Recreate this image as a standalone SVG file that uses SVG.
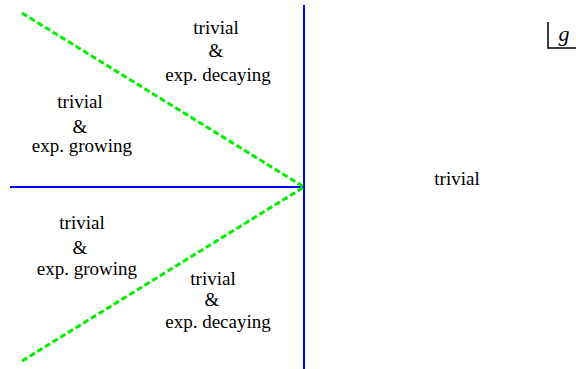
<svg xmlns="http://www.w3.org/2000/svg" width="576" height="369" viewBox="0 0 576 369">
<style>
.t{font-family:"Liberation Serif","Times New Roman",serif;font-size:19px;fill:#000;text-anchor:middle}
.blue{stroke:#0000ff;stroke-width:2;fill:none}
.green{stroke:#00ee00;stroke-width:3;stroke-dasharray:6,3;fill:none}
</style>
<rect width="576" height="369" fill="#fff"/>
<g id="connectors">
<line class="blue" x1="304" y1="5" x2="304" y2="369"/>
<line class="blue" x1="10" y1="187" x2="304" y2="187"/>
<line class="green" x1="22" y1="13" x2="304" y2="187"/>
<line class="green" x1="22" y1="361" x2="304" y2="187"/>
</g>
<g id="label-top">
<text class="t" x="216" y="34">trivial</text>
<text class="t" x="216" y="57">&amp;</text>
<text class="t" x="218" y="81">exp. decaying</text>
</g>
<g id="label-upper-left">
<text class="t" x="80" y="108">trivial</text>
<text class="t" x="80" y="133">&amp;</text>
<text class="t" x="82" y="152">exp. growing</text>
</g>
<g id="label-lower-left">
<text class="t" x="82" y="229">trivial</text>
<text class="t" x="80" y="254">&amp;</text>
<text class="t" x="87" y="275">exp. growing</text>
</g>
<g id="label-bottom">
<text class="t" x="213" y="285">trivial</text>
<text class="t" x="212" y="306">&amp;</text>
<text class="t" x="218" y="328">exp. decaying</text>
</g>
<g id="label-right">
<text class="t" x="457" y="185">trivial</text>
</g>
<g id="g-box">
<path d="M548,22 V48 H576" stroke="#000" stroke-width="1.5" fill="none"/>
<text x="564" y="41" style="font-family:'Liberation Serif',serif;font-size:22px;font-style:italic;text-anchor:middle">g</text>
</g>
</svg>
